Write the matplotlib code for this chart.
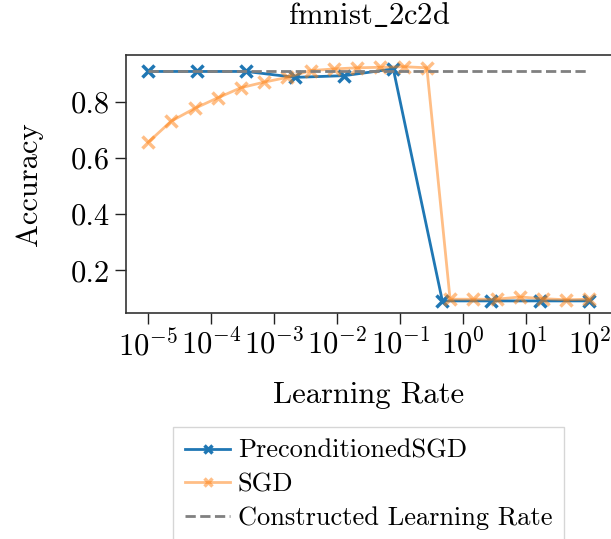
import numpy as np
import matplotlib
matplotlib.use("Agg")
import matplotlib.pyplot as plt
from matplotlib.ticker import NullLocator

plt.rcParams["font.family"] = ["cmr10", "DejaVu Serif"]
plt.rcParams["mathtext.fontset"] = "cm"
plt.rcParams["axes.formatter.use_mathtext"] = True
plt.rcParams["axes.unicode_minus"] = False

# Learning-rate grids (log10 exponents) for each optimizer sweep
precond_log_lr = np.linspace(-5, 2, 10)
sgd_log_lr = np.linspace(-5, 2, 20)

precond_acc = [0.909, 0.909, 0.909, 0.888, 0.894, 0.918, 0.091, 0.091, 0.091, 0.091]
sgd_acc = [0.656, 0.732, 0.777, 0.815, 0.851, 0.871, 0.888, 0.912, 0.918, 0.922,
           0.924, 0.926, 0.922, 0.097, 0.097, 0.097, 0.105, 0.099, 0.095, 0.097]

constructed_acc = 0.909
constructed_span = [1e-5, 1e2]

x_tick_exponents = [-5, -4, -3, -2, -1, 0, 1, 2]
y_ticks = [0.2, 0.4, 0.6, 0.8]

title = r"$\mathrm{fmnist\_2c2d}$"
labels = ["PreconditionedSGD", "SGD", "Constructed Learning Rate"]

fig = plt.figure(figsize=(6.11, 5.39), dpi=100)
ax = fig.add_axes([0.2062, 0.420, 0.7947, 0.478])

ax.plot(10.0 ** precond_log_lr, precond_acc, color="tab:blue", marker="x",
        lw=2.0, ms=9, mew=2.5, label=labels[0])
ax.plot(10.0 ** sgd_log_lr, sgd_acc, color="tab:orange", alpha=0.5, marker="x",
        lw=2.0, ms=9, mew=2.5, label=labels[1])
ax.plot(constructed_span, [constructed_acc, constructed_acc], color="gray",
        ls="--", lw=2.0, label=labels[2])

ax.set_xscale("log")
ax.set_xticks([10.0 ** e for e in x_tick_exponents])
ax.xaxis.set_minor_locator(NullLocator())
ax.set_yticks(y_ticks)
ax.set_yticklabels([f"{v:.1f}" for v in y_ticks])

ax.set_xlabel("Learning Rate", fontsize=22, labelpad=15)
ax.set_ylabel("Accuracy", fontsize=22, labelpad=20)
ax.set_title(title, fontsize=22, pad=22)
ax.tick_params(axis="both", labelsize=22, length=8, width=1.0, color="#222222")

for s in ax.spines.values():
    s.set_color("#333333")
    s.set_linewidth(1.2)
ax.spines["right"].set_visible(False)

leg = ax.legend(loc="upper center", bbox_to_anchor=(0.5, -0.445), fontsize=19,
                frameon=True, fancybox=False, edgecolor="#cccccc",
                handlelength=1.7, handletextpad=0.3, borderpad=0.45,
                labelspacing=0.38, borderaxespad=0.0, markerscale=0.65)
leg.get_frame().set_linewidth(1.0)

fig.savefig("out.png", dpi=100)
